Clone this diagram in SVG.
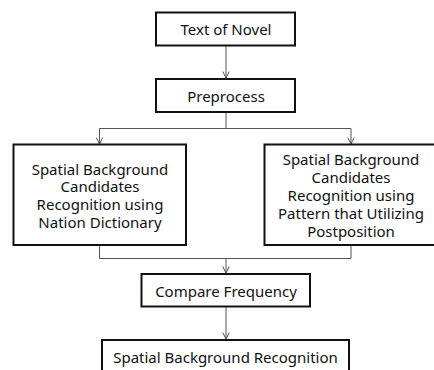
<svg xmlns="http://www.w3.org/2000/svg" width="434" height="370" viewBox="0 0 434 370">
<defs>
<marker id="arr" viewBox="0 0 10 10" refX="9" refY="5" markerWidth="8" markerHeight="8" markerUnits="userSpaceOnUse" orient="auto">
<path d="M1,1 L9,5 L1,9" fill="none" stroke="#444" stroke-width="1.2"/>
</marker>
<style>
.box{fill:#fff;stroke:#111;stroke-width:2}
.t{font-family:"Noto Sans","Open Sans",sans-serif;font-size:15px;fill:#111;text-anchor:middle}
.c{fill:none;stroke:#555;stroke-width:1}
</style>
</defs>
<rect width="434" height="370" fill="#fff"/>
<g id="connectors">
<path class="c" d="M226,46 V78" marker-end="url(#arr)"/>
<path class="c" d="M226,112 V128.5 M99.5,128.5 H351"/>
<path class="c" d="M99.5,128.5 V144" marker-end="url(#arr)"/>
<path class="c" d="M351,128.5 V144" marker-end="url(#arr)"/>
<path class="c" d="M99.5,245 V258.5 H351 V245"/>
<path class="c" d="M226,258.5 V273" marker-end="url(#arr)"/>
<path class="c" d="M226,307 V339" marker-end="url(#arr)"/>
</g>
<g id="text-of-novel">
<rect class="box" x="156" y="12.5" width="139" height="33"/>
<text class="t" x="226" y="35">Text of Novel</text>
</g>
<g id="preprocess">
<rect class="box" x="156" y="79" width="139" height="33"/>
<text class="t" x="226" y="102">Preprocess</text>
</g>
<g id="nation-dictionary">
<rect class="box" x="13.5" y="144.5" width="172.5" height="100.5"/>
<text class="t" x="100" y="174.5">Spatial Background</text>
<text class="t" x="100" y="192.2">Candidates</text>
<text class="t" x="100" y="209.9">Recognition using</text>
<text class="t" x="100" y="227.6">Nation Dictionary</text>
</g>
<g id="postposition">
<rect class="box" x="264.5" y="144.5" width="175" height="100.5"/>
<text class="t" x="351" y="165.2">Spatial Background</text>
<text class="t" x="351" y="183">Candidates</text>
<text class="t" x="351" y="201">Recognition using</text>
<text class="t" x="351" y="219">Pattern that Utilizing</text>
<text class="t" x="351" y="237">Postposition</text>
</g>
<g id="compare-frequency">
<rect class="box" x="141.5" y="274" width="168.5" height="32.5"/>
<text class="t" x="226" y="297">Compare Frequency</text>
</g>
<g id="spatial-background-recognition">
<rect class="box" x="102" y="340" width="247" height="40"/>
<text class="t" x="225.5" y="362.5">Spatial Background  Recognition</text>
</g>
</svg>
